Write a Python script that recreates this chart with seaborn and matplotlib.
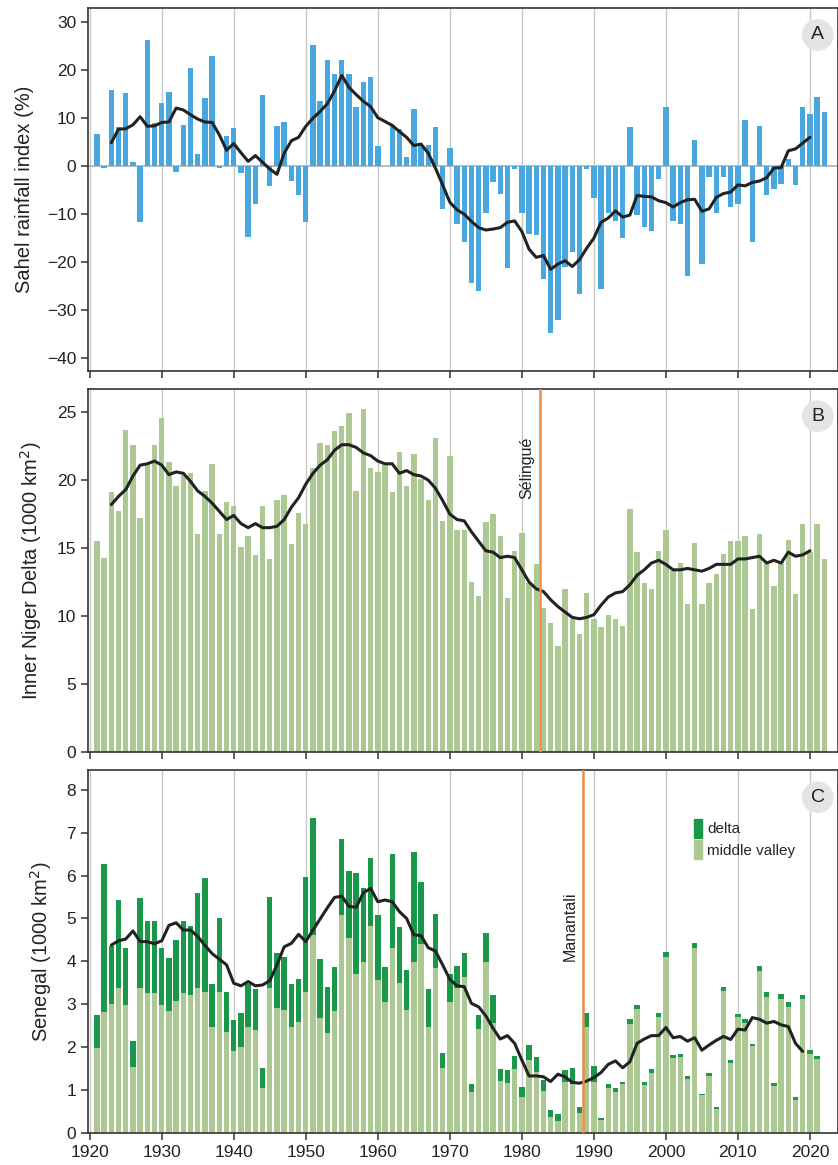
import numpy as np
import pandas as pd
import seaborn as sns
import matplotlib.pyplot as plt
from matplotlib.patches import Patch

sns.set_style("white")
plt.rcParams['font.family'] = ['Liberation Sans', 'DejaVu Sans']

# --- data ---
years_a = list(range(1921, 2023))
sahel = [6.7, -0.4, 15.8, 8.1, 15.2, 0.9, -11.7, 26.2, 9.0, 13.1,
         15.5, -1.3, 8.6, 20.5, 2.6, 14.1, 23.0, -0.3, 6.2, 7.9,
         -1.4, -14.7, -7.8, 14.9, -4.1, 8.3, 9.2, -3.0, -6.0, -11.7,
         25.3, 13.6, 22.1, 19.2, 22.1, 19.2, 12.3, 17.6, 18.5, 4.2,
         0.0, 8.4, 7.8, 1.9, 11.9, 4.4, 4.4, 8.1, -9.0, 3.8,
         -12.1, -15.8, -24.4, -26.1, -9.8, -3.2, -5.7, -21.3, -0.6, -9.8,
         -14.1, -14.4, -23.6, -34.7, -32.0, -20.9, -17.8, -26.7, -0.6, -6.7,
         -25.6, -9.7, -11.4, -14.9, 8.1, -10.1, -12.6, -13.6, -2.7, 12.3,
         -11.5, -12.0, -22.8, 5.5, -20.4, -2.2, -9.8, -2.2, -8.6, -7.8,
         9.7, -15.7, 8.3, -6.1, -4.8, -3.8, 1.5, -3.9, 12.4, 10.8,
         14.4, 11.2]

years_smooth = list(range(1923, 2021))
sahel_smooth = [4.9, 7.7, 7.8, 8.6, 10.3, 8.3, 8.4, 9.1,
                9.2, 12.1, 11.7, 10.7, 9.8, 9.2, 9.1, 6.5, 3.3, 4.7,
                2.8, 1.0, 2.2, 0.8, -0.6, -1.7, 2.7, 5.3, 6.0, 8.3,
                10.0, 11.4, 13.0, 15.7, 18.9, 16.4, 14.9, 13.5, 12.4, 10.1,
                9.3, 8.5, 7.2, 6.0, 4.3, 4.6, 2.7, -0.4, -3.9, -7.5,
                -9.1, -10.0, -11.5, -12.8, -13.3, -13.1, -12.8, -11.7, -11.4, -13.6,
                -17.3, -19.0, -18.6, -21.5, -20.4, -19.7, -20.9, -19.5, -17.1, -15.0,
                -11.7, -10.8, -9.3, -10.6, -10.2, -6.1, -6.3, -6.4, -7.2, -7.6,
                -8.5, -7.6, -7.0, -6.9, -9.4, -8.9, -6.5, -5.7, -5.4, -3.9,
                -4.1, -3.4, -3.1, -2.4, -0.4, -0.3, 3.2, 3.6, 4.8, 6.0]

inner_niger = [15.5, 14.3, 19.1, 17.7, 23.7, 22.6, 17.2, 21.1, 22.6, 24.6,
               21.3, 19.6, 20.4, 20.5, 16.0, 19.2, 21.2, 16.0, 18.4, 18.1,
               15.1, 15.9, 14.5, 18.1, 14.2, 18.5, 18.9, 15.3, 17.6, 16.8,
               20.9, 22.7, 22.6, 23.6, 24.0, 24.9, 19.2, 25.2, 20.9, 20.6,
               21.1, 19.1, 22.1, 19.6, 21.9, 20.1, 18.5, 23.1, 17.0, 21.8,
               16.3, 16.3, 12.5, 11.5, 16.9, 17.5, 15.9, 11.3, 14.8, 16.1,
               12.4, 13.8, 10.6, 9.5, 7.8, 12.0, 9.8, 8.7, 11.7, 9.8,
               9.2, 10.1, 9.8, 9.3, 17.9, 14.7, 12.4, 12.0, 14.8, 16.3,
               13.3, 13.9, 10.9, 15.4, 10.9, 12.4, 13.1, 14.6, 15.5, 15.5,
               15.9, 10.5, 16.0, 13.9, 12.2, 14.0, 15.6, 11.6, 16.8, 14.7,
               16.8, 14.2]

niger_smooth = [18.2, 18.8, 19.3, 20.3, 21.1, 21.2, 21.4, 21.1,
                20.4, 20.6, 20.5, 19.9, 19.2, 18.8, 18.3, 17.7, 17.1, 17.4,
                16.8, 16.5, 16.8, 16.5, 16.5, 16.6, 17.1, 18.0, 18.7, 19.7,
                20.5, 21.1, 21.5, 22.2, 22.6, 22.6, 22.4, 22.0, 21.8, 21.4,
                21.2, 21.2, 20.5, 20.7, 20.4, 20.3, 20.0, 19.4, 18.5, 17.5,
                17.1, 17.0, 16.2, 15.5, 14.8, 14.7, 14.3, 14.4, 14.3, 13.4,
                12.5, 12.0, 11.8, 11.2, 10.7, 10.3, 9.9, 9.8, 9.9, 10.1,
                10.8, 11.4, 11.7, 11.8, 12.3, 13.0, 13.4, 13.9, 14.1, 13.8,
                13.4, 13.4, 13.5, 13.4, 13.3, 13.5, 13.8, 13.8, 13.8, 14.2,
                14.2, 14.3, 14.4, 13.9, 14.1, 13.9, 14.7, 14.4, 14.5, 14.8]

years_c = list(range(1921, 2022))
middle_valley = [1.97, 2.81, 3.01, 3.39, 2.99, 1.54, 3.39, 3.26, 3.26, 2.98,
                 2.84, 3.08, 3.26, 3.22, 3.39, 3.29, 2.48, 3.29, 2.36, 1.92,
                 2.01, 2.48, 2.40, 1.04, 3.39, 2.92, 2.87, 2.48, 2.58, 3.29,
                 4.62, 2.67, 2.32, 2.84, 5.08, 4.54, 3.71, 3.99, 4.83, 3.57,
                 3.05, 4.31, 3.50, 2.87, 3.98, 4.41, 2.48, 3.84, 1.51, 3.06,
                 3.39, 3.64, 0.95, 2.42, 3.99, 2.57, 1.21, 1.17, 1.50, 0.85,
                 1.70, 1.42, 0.99, 0.38, 0.29, 1.18, 1.14, 0.46, 2.46, 1.18,
                 0.30, 1.06, 0.96, 1.14, 2.54, 2.88, 1.12, 1.41, 2.70, 4.11,
                 1.74, 1.78, 1.27, 4.31, 0.88, 1.33, 0.55, 3.31, 1.62, 2.70,
                 2.57, 2.02, 3.77, 3.18, 1.10, 3.12, 2.94, 0.77, 3.12, 1.85,
                 1.72]
delta = [0.78, 3.46, 1.35, 2.04, 1.33, 0.60, 2.08, 1.67, 1.67, 1.33,
         1.23, 1.42, 1.68, 1.61, 2.20, 2.65, 0.99, 1.72, 0.92, 0.72,
         0.78, 0.99, 0.95, 0.47, 2.10, 1.27, 1.24, 0.99, 1.01, 2.68,
         2.73, 1.39, 1.08, 1.04, 1.77, 1.57, 2.34, 1.71, 1.57, 1.51,
         0.83, 2.19, 1.30, 0.94, 2.56, 1.43, 0.88, 1.26, 0.36, 0.64,
         0.50, 0.55, 0.20, 0.33, 0.66, 0.65, 0.27, 0.30, 0.30, 0.23,
         0.35, 0.34, 0.25, 0.16, 0.15, 0.29, 0.37, 0.14, 0.33, 0.37,
         0.06, 0.09, 0.10, 0.06, 0.11, 0.10, 0.06, 0.08, 0.10, 0.12,
         0.08, 0.06, 0.06, 0.11, 0.04, 0.08, 0.06, 0.10, 0.08, 0.08,
         0.09, 0.06, 0.12, 0.10, 0.07, 0.11, 0.11, 0.06, 0.10, 0.08,
         0.08]

years_c_smooth = list(range(1923, 2020))
senegal_smooth = [4.38, 4.48, 4.52, 4.71, 4.46, 4.46, 4.41, 4.48,
                  4.84, 4.90, 4.73, 4.73, 4.58, 4.37, 4.18, 4.05, 3.92, 3.49,
                  3.43, 3.53, 3.43, 3.45, 3.55, 3.92, 4.34, 4.42, 4.63, 4.46,
                  4.73, 4.99, 5.25, 5.49, 5.52, 5.28, 5.26, 5.60, 5.70, 5.39,
                  5.43, 5.39, 5.16, 5.00, 4.62, 4.60, 4.32, 4.24, 3.92, 3.58,
                  3.43, 3.41, 3.02, 2.94, 2.73, 2.44, 2.19, 2.27, 2.09, 1.70,
                  1.33, 1.33, 1.31, 1.20, 1.37, 1.31, 1.18, 1.16, 1.21, 1.29,
                  1.41, 1.60, 1.68, 1.52, 1.66, 2.09, 2.19, 2.27, 2.27, 2.46,
                  2.22, 2.25, 2.14, 2.22, 1.93, 2.05, 2.16, 2.25, 2.18, 2.42,
                  2.40, 2.69, 2.65, 2.56, 2.60, 2.52, 2.48, 2.09, 1.90]

# colours
blue = '#48a7de'
light_green = '#acc993'
dark_green = '#189848'
orange = '#e98c48'
ink = '#222222'

fig = plt.figure(figsize=(8.38, 11.65), dpi=100)
ax_a = fig.add_axes([88 / 838, 1 - 370.7 / 1165, 750 / 838, 363 / 1165])
ax_b = fig.add_axes([88 / 838, 1 - 752 / 1165, 750 / 838, 363 / 1165])
ax_c = fig.add_axes([88 / 838, 1 - 1133 / 1165, 750 / 838, 363 / 1165])

# A: Sahel rainfall index
ax_a.axhline(0, color='#b0b0b0', lw=1.2, zorder=1)
sns.barplot(x=years_a, y=sahel, native_scale=True, width=0.75, color=blue,
            saturation=1, linewidth=0, errorbar=None, ax=ax_a, zorder=2)
sns.lineplot(x=years_smooth, y=sahel_smooth, color=ink, lw=2.2, ax=ax_a, zorder=3)
ax_a.set_ylim(-42.6, 33.0)
ax_a.set_yticks(range(-40, 31, 10))
ax_a.set_ylabel('Sahel rainfall index (%)')

# B: Inner Niger Delta
sns.barplot(x=years_a, y=inner_niger, native_scale=True, width=0.75, color=light_green,
            saturation=1, linewidth=0, errorbar=None, ax=ax_b, zorder=2)
sns.lineplot(x=years_smooth, y=niger_smooth, color=ink, lw=2.2, ax=ax_b, zorder=3)
ax_b.axvline(1982.5, color=orange, lw=1.8, zorder=4)
ax_b.text(1980.7, 23.2, 'Sélingué', rotation=90, ha='center', va='top',
          fontsize=11.5, color=ink)
ax_b.set_ylim(0, 26.7)
ax_b.set_yticks(range(0, 26, 5))
ax_b.set_ylabel('Inner Niger Delta (1000 km$^2$)')

# C: Senegal, stacked delta on top of middle valley
total_c = np.add(middle_valley, delta)
sns.barplot(x=years_c, y=total_c, native_scale=True, width=0.75, color=dark_green,
            saturation=1, linewidth=0, errorbar=None, ax=ax_c, zorder=2)
sns.barplot(x=years_c, y=middle_valley, native_scale=True, width=0.75, color=light_green,
            saturation=1, linewidth=0, errorbar=None, ax=ax_c, zorder=2)
sns.lineplot(x=years_c_smooth, y=senegal_smooth, color=ink, lw=2.2, ax=ax_c, zorder=3)
ax_c.axvline(1988.5, color=orange, lw=1.8, zorder=4)
ax_c.text(1986.7, 5.62, 'Manantali', rotation=90, ha='center', va='top',
          fontsize=11.5, color=ink)
ax_c.set_ylim(0, 8.46)
ax_c.set_yticks(range(0, 9))
ax_c.set_ylabel('Senegal (1000 km$^2$)')
handles = [Patch(color=dark_green, label='delta'),
           Patch(color=light_green, label='middle valley')]
ax_c.legend(handles=handles, loc='upper left', bbox_to_anchor=(0.8, 0.883),
            frameon=False, fontsize=11, handlelength=0.5, handleheight=1.55,
            handletextpad=0.35, labelspacing=0.15, borderaxespad=0)

for ax, letter in zip([ax_a, ax_b, ax_c], 'ABC'):
    ax.set_xlim(1919.76, 2023.9)
    ax.set_xticks(range(1920, 2021, 10))
    ax.grid(axis='x', color='#c8c8c8', lw=1)
    ax.set_axisbelow(True)
    ax.set_xlabel('')
    ax.tick_params(axis='both', direction='out', length=5, width=1.1,
                   color='#333333', labelsize=12.5, labelcolor=ink,
                   bottom=True, left=True)
    ax.yaxis.label.set_size(14.5)
    ax.yaxis.label.set_color(ink)
    ax.yaxis.labelpad = 9
    for s in ax.spines.values():
        s.set_color('#333333')
        s.set_linewidth(1.2)
    ax.text(0.973, 0.925, letter, transform=ax.transAxes, ha='center', va='center',
            fontsize=14, color=ink,
            bbox=dict(boxstyle='circle,pad=0.38', fc='#e4e4e4', ec='none'))
    if ax is not ax_c:
        ax.tick_params(axis='x', labelbottom=False)

fig.savefig('out.png', dpi=100)
